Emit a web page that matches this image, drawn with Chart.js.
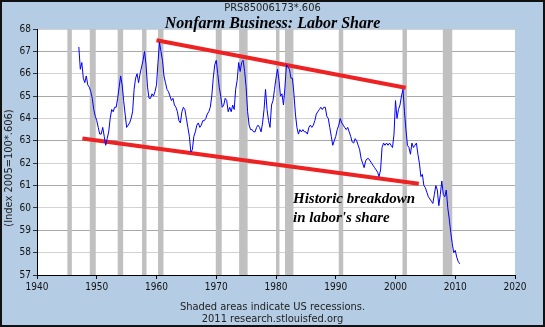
<!DOCTYPE html>
<html>
<head>
<meta charset="utf-8">
<script src="https://cdn.jsdelivr.net/npm/chart.js@4/dist/chart.umd.min.js"></script>
<style>
  html, body { margin: 0; padding: 0; background: #b4cde5; }
  canvas { display: block; }
</style>
</head>
<body>
<canvas id="chart" width="545" height="327"></canvas>
<script>
// Nonfarm business sector: labor share (index 2005=100, scaled by .606), quarterly from 1947 Q1
const firstQuarter = 1947;
const laborShare = [
  67.2, 66.2, 66.5, 65.8,   // 1947
  65.6, 65.9, 65.5, 65.4,   // 1948
  65.2, 64.9, 64.4, 64.1,   // 1949
  63.9, 63.6, 63.3, 63.3,   // 1950
  63.6, 63.2, 62.8, 63.1,   // 1951
  63.4, 64.0, 64.4, 64.3,   // 1952
  64.5, 64.5, 64.9, 65.4,   // 1953
  65.9, 65.5, 64.8, 64.2,   // 1954
  63.6, 63.7, 63.8, 64.0,   // 1955
  64.3, 65.3, 65.8, 66.0,   // 1956
  65.6, 66.0, 66.3, 66.6,   // 1957
  67.0, 66.4, 65.4, 64.9,   // 1958
  64.9, 65.1, 65.0, 65.2,   // 1959
  65.5, 66.5, 67.4, 67.0,   // 1960
  66.6, 65.9, 65.6, 65.3,   // 1961
  65.2, 65.0, 64.8, 64.9,   // 1962
  64.6, 64.5, 64.3, 63.9,   // 1963
  63.8, 64.3, 64.5, 64.4,   // 1964
  64.0, 63.6, 63.2, 62.5,   // 1965
  62.6, 63.2, 63.4, 63.7,   // 1966
  63.8, 63.6, 63.7, 63.9,   // 1967
  63.9, 64.0, 64.2, 64.3,   // 1968
  64.5, 65.0, 65.8, 66.4,   // 1969
  66.6, 66.0, 65.4, 65.0,   // 1970
  64.5, 64.6, 64.9, 64.8,   // 1971
  64.3, 64.5, 64.3, 64.6,   // 1972
  64.4, 65.3, 65.7, 66.5,   // 1973
  66.1, 66.5, 66.6, 66.1,   // 1974
  65.4, 64.3, 63.7, 63.5,   // 1975
  63.5, 63.4, 63.4, 63.6,   // 1976
  63.7, 63.6, 63.4, 63.8,   // 1977
  64.4, 65.3, 64.4, 63.9,   // 1978
  63.6, 64.6, 64.8, 65.3,   // 1979
  65.8, 66.2, 65.7, 65.0,   // 1980
  65.1, 64.6, 65.4, 66.4,   // 1981
  66.3, 66.2, 65.8, 65.8,   // 1982
  65.1, 64.2, 63.6, 63.3,   // 1983
  63.5, 63.4, 63.5, 63.4,   // 1984
  63.4, 63.3, 63.6, 63.7,   // 1985
  63.6, 63.7, 63.9, 64.2,   // 1986
  64.3, 64.4, 64.5, 64.4,   // 1987
  64.5, 64.5, 64.1, 64.0,   // 1988
  63.6, 63.2, 62.8, 63.0,   // 1989
  63.2, 63.5, 63.7, 64.0,   // 1990
  63.8, 63.7, 63.6, 63.5,   // 1991
  63.6, 63.4, 63.2, 62.95,  // 1992
  62.9, 63.1, 63.0, 62.8,   // 1993
  62.6, 62.2, 62.0, 61.8,   // 1994
  62.1, 62.2, 62.2, 62.1,   // 1995
  62.0, 61.9, 61.8, 61.7,   // 1996
  61.6, 61.4, 61.7, 62.7,   // 1997
  62.9, 62.8, 62.9, 62.8,   // 1998
  62.9, 62.8, 62.7, 63.3,   // 1999
  64.8, 64.0, 64.4, 64.6,   // 2000
  65.0, 65.3, 64.3, 63.5,   // 2001
  62.8, 62.7, 62.4, 62.9,   // 2002
  62.7, 62.8, 62.9, 62.4,   // 2003
  62.0, 61.4, 61.5, 61.0,   // 2004
  60.9, 60.7, 60.5, 60.4,   // 2005
  60.3, 60.2, 60.6, 61.0,   // 2006
  60.8, 60.1, 60.6, 61.2,   // 2007
  60.6, 60.5, 60.8, 60.0,   // 2008
  59.5, 58.9, 58.4, 58.0,   // 2009
  58.1, 57.8, 57.6, 57.5    // 2010
];

// US recessions (peak, trough) as fractional years
const recessions = [
  [1945.08, 1945.83], [1948.83, 1949.83], [1953.5, 1954.42], [1957.58, 1958.33],
  [1960.25, 1961.17], [1969.92, 1970.92], [1973.83, 1975.25], [1980.0, 1980.58],
  [1981.5, 1982.92], [1990.5, 1991.25], [2001.17, 2001.92], [2007.92, 2009.5]
];

// Hand-drawn trend channel
const upperTrend = [{ x: 1960.0, y: 67.5 }, { x: 2001.7, y: 65.37 }];
const lowerTrend = [{ x: 1947.6, y: 63.1 }, { x: 2003.9, y: 61.08 }];

const xRange = [1940, 2020];
const yRange = [57, 68];

const seriesPoints = laborShare.map((v, i) => ({ x: firstQuarter + i / 4, y: v }));

const sansFont = '"DejaVu Sans Condensed", "DejaVu Sans", sans-serif';
const serifFont = '"Liberation Serif", "Times New Roman", serif';

const framePlugin = {
  id: 'frame',
  beforeDraw(chart) {
    const { ctx, chartArea: a } = chart;
    ctx.save();
    ctx.fillStyle = '#b4cde5';
    ctx.fillRect(0, 0, chart.width, chart.height);
    ctx.fillStyle = '#ffffff';
    ctx.fillRect(a.left, a.top, a.right - a.left, a.bottom - a.top);
    ctx.restore();
  },
  // recession shading sits over the grid, under the series
  beforeDatasetsDraw(chart) {
    const { ctx, chartArea: a, scales } = chart;
    ctx.save();
    ctx.fillStyle = '#c0c0c0';
    recessions.forEach(([s, e]) => {
      const x0 = scales.x.getPixelForValue(s);
      const x1 = scales.x.getPixelForValue(e);
      ctx.fillRect(x0, a.top, x1 - x0, a.bottom - a.top);
    });
    ctx.restore();
  },
  afterDraw(chart) {
    const { ctx } = chart;
    const cx = chart.width / 2;
    ctx.save();
    ctx.textAlign = 'center';
    ctx.textBaseline = 'middle';
    ctx.fillStyle = '#222';
    ctx.font = '11px ' + sansFont;
    ctx.fillText('PRS85006173*.606', cx, 8);

    ctx.fillStyle = '#000';
    ctx.font = 'italic bold 16px ' + serifFont;
    ctx.textBaseline = 'alphabetic';
    ctx.fillText('Nonfarm Business: Labor Share', cx, 28);

    ctx.textBaseline = 'middle';
    ctx.fillStyle = '#222';
    ctx.font = '11px ' + sansFont;
    ctx.fillText('Shaded areas indicate US recessions.', cx, 307);
    ctx.fillText('2011 research.stlouisfed.org', cx, 319);

    ctx.save();
    ctx.translate(9, 168);
    ctx.rotate(-Math.PI / 2);
    ctx.fillText('(Index 2005=100*.606)', 0, 0);
    ctx.restore();

    ctx.fillStyle = '#000';
    ctx.textAlign = 'left';
    ctx.textBaseline = 'alphabetic';
    ctx.font = 'italic bold 15px ' + serifFont;
    ctx.fillText('Historic breakdown', 293, 203);
    ctx.fillText("in labor's share", 293, 222);

    ctx.strokeStyle = '#111';
    ctx.lineWidth = 2;
    ctx.strokeRect(1, 1, chart.width - 2, chart.height - 2);
    ctx.restore();
  }
};

new Chart(document.getElementById('chart'), {
  type: 'line',
  data: {
    datasets: [
      {
        label: 'Labor share',
        data: seriesPoints,
        borderColor: '#0000ff',
        borderWidth: 1,
        pointRadius: 0,
        tension: 0
      },
      {
        label: 'Upper trend',
        data: upperTrend,
        borderColor: '#ee2222',
        borderWidth: 4,
        pointRadius: 0,
        borderCapStyle: 'butt'
      },
      {
        label: 'Lower trend',
        data: lowerTrend,
        borderColor: '#ee2222',
        borderWidth: 4,
        pointRadius: 0,
        borderCapStyle: 'butt'
      }
    ]
  },
  options: {
    responsive: false,
    animation: false,
    devicePixelRatio: 1,
    layout: { padding: { top: 29, right: 30, left: 0, bottom: 0 } },
    plugins: { legend: { display: false }, tooltip: { enabled: false } },
    scales: {
      x: {
        type: 'linear',
        min: xRange[0],
        max: xRange[1],
        afterFit(s) { s.height = 52; },
        border: { color: '#000', width: 1 },
        grid: { drawOnChartArea: false, tickLength: 4, tickColor: '#000' },
        ticks: {
          stepSize: 10,
          color: '#111',
          padding: 2,
          maxRotation: 0,
          font: { family: sansFont, size: 10 },
          callback: v => String(v)
        }
      },
      y: {
        min: yRange[0],
        max: yRange[1],
        afterFit(s) { s.width = 37; },
        border: { color: '#000', width: 1 },
        grid: {
          tickLength: 4,
          tickColor: '#333',
          color: c => (c.tick && c.tick.value % 2 === 1 ? '#a8a8a8' : '#d2d2d2')
        },
        ticks: {
          stepSize: 1,
          color: '#111',
          padding: 2,
          font: { family: sansFont, size: 10 },
          callback: v => String(v)
        }
      }
    }
  },
  plugins: [framePlugin]
});
</script>
</body>
</html>
